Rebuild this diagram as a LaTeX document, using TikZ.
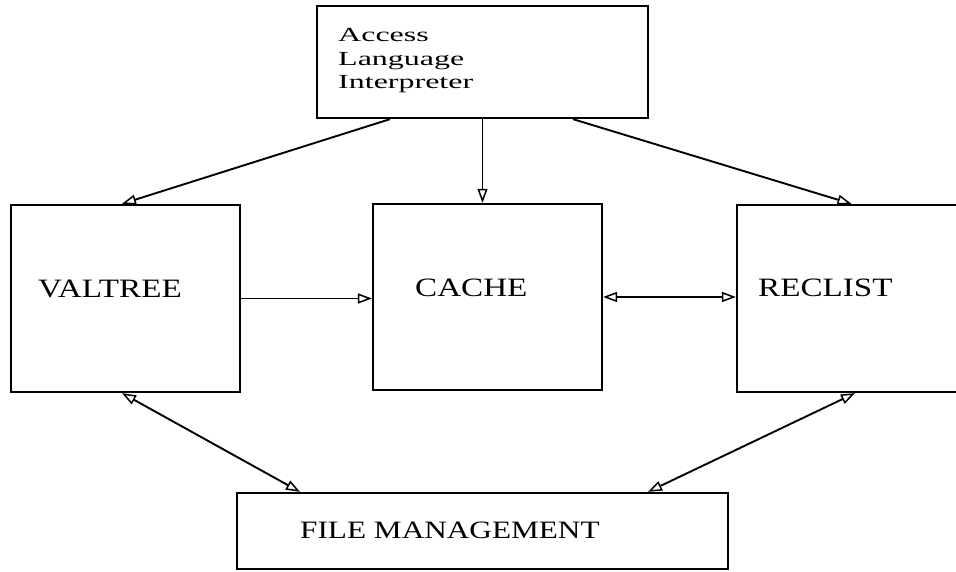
\documentclass[tikz,border=0pt]{standalone}
\usepackage{fontspec}
\setmainfont{Liberation Serif}
\newfontfamily\boxfont[FakeStretch=1.25]{Liberation Serif}
\newfontfamily\topfont[FakeStretch=1.6]{Liberation Serif}
\usetikzlibrary{arrows.meta}

\begin{document}
\begin{tikzpicture}[x=1pt, y=1pt,
  block/.style={draw, line width=2.3pt, inner sep=0pt},
  lbl/.style={anchor=base west, inner sep=0pt, font=\boxfont\fontsize{26.5}{28}\selectfont},
  link/.style={line width=1.9pt, -{Triangle[open, length=14pt, width=10pt, line width=1.5pt]}},
  both/.style={link, {Triangle[open, length=14pt, width=10pt, line width=1.5pt]}-{Triangle[open, length=14pt, width=10pt, line width=1.5pt]}}]
  \useasboundingbox (0,0) rectangle (956,571);
  \clip (0,0) rectangle (956,571);
  %% Boxes
  \node[block, minimum width=331, minimum height=112] (ali) at (482.5,509) {};
  \node[block, minimum width=229, minimum height=187] (valtree) at (125.5,272.5) {};
  \node[block, minimum width=229, minimum height=186] (cache) at (487.5,274) {};
  \node[block, minimum width=229, minimum height=187] (reclist) at (851.5,272.5) {};
  \node[block, minimum width=491, minimum height=76] (fm) at (482.5,40) {};
  %% Labels
  \node[anchor=base west, inner sep=0pt, align=left,
        font=\topfont\fontsize{20}{23.5}\selectfont] (alitext) at (338,482)
        {Access\\Language\\Interpreter};
  \node[lbl] (valtreetext) at (38,273) {VALTREE};
  \node[lbl] (cachetext) at (415,274) {CACHE};
  \node[lbl] (reclisttext) at (758,274) {RECLIST};
  \node[lbl, font=\boxfont\fontsize{25}{27}\selectfont] (fmtext) at (300,33) {FILE MANAGEMENT};
  %% Connectors
  \draw[link] ([xshift=-92.5]ali.south) -- ([xshift=-3.5]valtree.north);
  \draw[link] (ali.south) -- (ali.south |- cache.north);
  \draw[link] ([xshift=90.5]ali.south) -- (reclist.north);
  \draw[link] (valtree.east) -- (valtree.east -| cache.west);
  \draw[both] (cache.east) -- (cache.east -| reclist.west);
  \draw[both] ([xshift=-3.5]valtree.south) -- ([xshift=-182.5]fm.north);
  \draw[both] ([xshift=3.5]reclist.south) -- ([xshift=165.5]fm.north);
\end{tikzpicture}
\end{document}
